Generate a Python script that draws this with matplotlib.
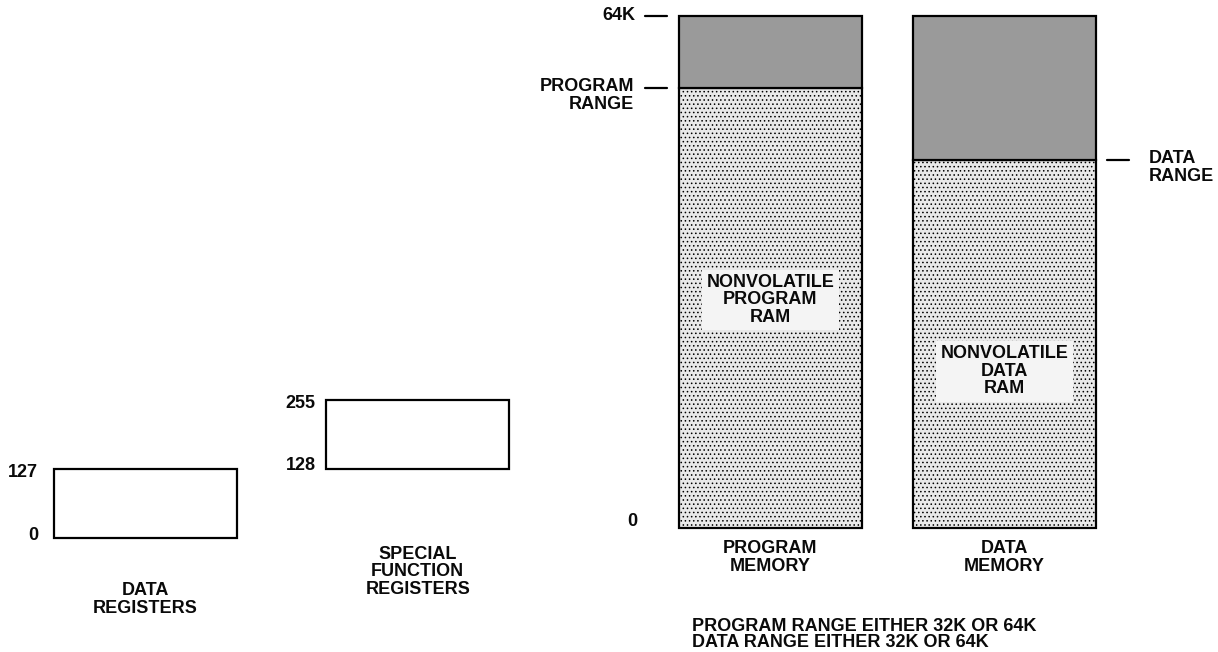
import matplotlib
matplotlib.use('Agg')
import matplotlib.pyplot as plt
from matplotlib.transforms import offset_copy

plt.rcParams['font.family'] = ['Liberation Sans', 'DejaVu Sans']
plt.rcParams['hatch.color'] = '#b4b4b4'
plt.rcParams['hatch.linewidth'] = 0.6

W, H = 1218, 652

# on-chip register file (byte addresses)
reg_names = ['DATA\nREGISTERS', 'SPECIAL\nFUNCTION\nREGISTERS']
reg_low = [0, 128]
reg_high = [127, 255]

# external memory (K bytes)
mem_names = ['PROGRAM\nMEMORY', 'DATA\nMEMORY']
mem_top = 64
mem_range = [55, 46]
range_labels = ['PROGRAM\nRANGE', 'DATA\nRANGE']
ram_labels = ['NONVOLATILE\nPROGRAM\nRAM', 'NONVOLATILE\nDATA\nRAM']
ram_label_at = [28.5, 19.6]

footnote = ['PROGRAM RANGE EITHER 32K OR 64K',
            'DATA RANGE EITHER 32K OR 64K']

FS = 13
txt = dict(fontsize=FS, fontweight='bold', linespacing=1.05, color='#0a0a0a')

fig = plt.figure(figsize=(W / 100, H / 100), dpi=100)
fig.patch.set_facecolor('white')


def px_axes(left, top, right, bottom):
    ax = fig.add_axes([left / W, (H - bottom) / H, (right - left) / W, (bottom - top) / H])
    ax.axis('off')
    return ax


# ---- registers
ax = px_axes(54, 400, 509, 538)
rw = 0.67
ax.set_xlim(-rw / 2, 1 + rw / 2)
ax.set_ylim(0, 255)
xs = range(len(reg_names))
heights = [h - l for l, h in zip(reg_low, reg_high)]
bars = ax.bar(xs, heights, bottom=reg_low, width=rw, color='white',
              edgecolor='black', linewidth=1.6)
for b in bars:
    b.set_clip_on(False)
lab_off = [-16, -11]
drop = [-44, -77]
for i in xs:
    left = i - rw / 2
    ax.annotate(str(reg_high[i]), (left, reg_high[i]), xytext=(lab_off[i], -3),
                textcoords='offset pixels', ha='right', va='center', **txt)
    ax.annotate(str(reg_low[i]), (left, reg_low[i]), xytext=(lab_off[i], 3),
                textcoords='offset pixels', ha='right', va='center', **txt)
    ax.annotate(reg_names[i], (i, reg_low[i]), xytext=(0, drop[i]),
                textcoords='offset pixels', ha='center', va='top', **txt)

# ---- program / data memory
ax = px_axes(679, 16, 1096, 528)
mw = 0.782
ax.set_xlim(-mw / 2, 1 + mw / 2)
ax.set_ylim(0, mem_top)
xs = range(len(mem_names))
low = ax.bar(xs, mem_range, width=mw, color='#e9e9e9', edgecolor='black',
             linewidth=1.6, hatch='....')
high = ax.bar(xs, [mem_top - r for r in mem_range], bottom=mem_range, width=mw,
              color='#9a9a9a', edgecolor='black', linewidth=1.6)
for b in list(low) + list(high):
    b.set_clip_on(False)

for i in xs:
    ax.annotate(mem_names[i], (i, 0), xytext=(0, -12), textcoords='offset pixels',
                ha='center', va='top', **txt)
    ax.text(i, ram_label_at[i], ram_labels[i], ha='center', va='center',
            bbox=dict(facecolor='#f4f4f4', edgecolor='none', pad=3), **txt)


def dash(x, y, d0, d1):
    tr = offset_copy(ax.transData, fig, x=d0, y=0, units='dots')
    ax.annotate('', (x, y), xycoords=tr, xytext=(d1 - d0, 0), textcoords='offset pixels',
                arrowprops=dict(arrowstyle='-', lw=1.6, color='black',
                                shrinkA=0, shrinkB=0), annotation_clip=False)


left0 = -mw / 2
right1 = 1 + mw / 2
# top / bottom addresses on program memory
dash(left0, mem_top, -12, -34)
ax.annotate('64K', (left0, mem_top), xytext=(-44, 0), textcoords='offset pixels',
            ha='right', va='center', **txt)
ax.annotate('0', (left0, 0), xytext=(-42, 7), textcoords='offset pixels',
            ha='right', va='center', **txt)
# range markers
dash(left0, mem_range[0], -12, -34)
ax.annotate(range_labels[0], (left0, mem_range[0]), xytext=(-45, 10),
            textcoords='offset pixels', ha='right', va='top', **txt)
dash(right1, mem_range[1], 11, 33)
ax.annotate(range_labels[1], (right1, mem_range[1]), xytext=(53, 10),
            textcoords='offset pixels', ha='left', va='top', **txt)

fig.text(692 / W, 1 - 651 / H, '\n'.join(footnote), ha='left', va='bottom',
         **dict(txt, linespacing=0.95))

fig.savefig('out.png', dpi=100, facecolor='white')
